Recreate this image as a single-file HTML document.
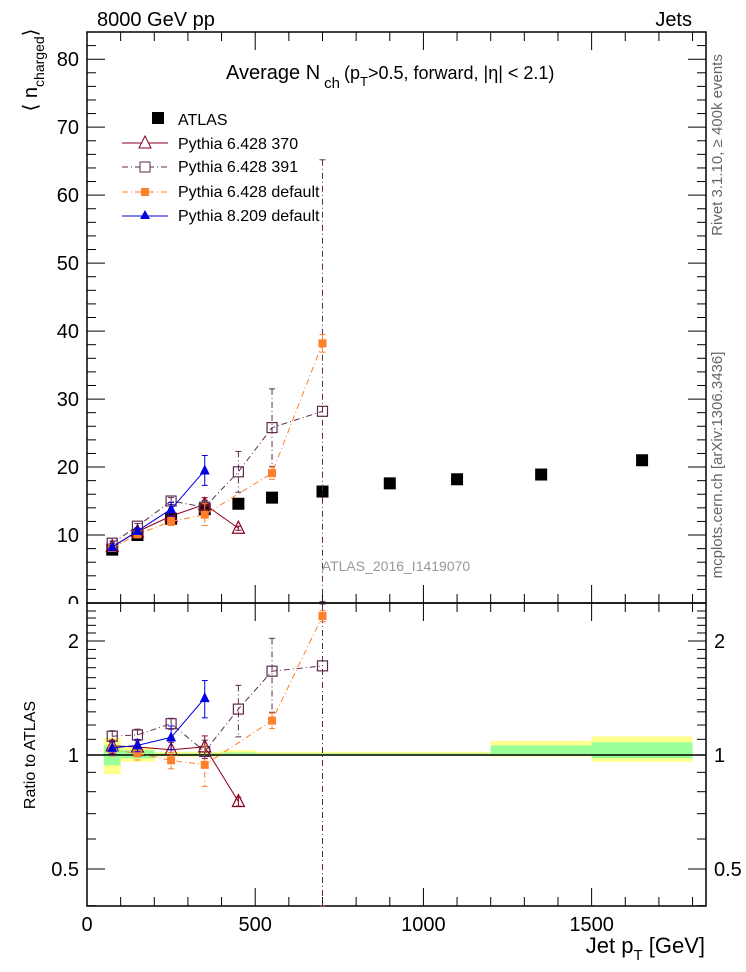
<!DOCTYPE html>
<html><head><meta charset="utf-8"><style>
html,body{margin:0;padding:0;background:#fff;}
svg{display:block;font-family:"Liberation Sans",sans-serif;}
</style></head><body>
<svg id="c" width="746" height="972" xmlns="http://www.w3.org/2000/svg"></svg>
<script>
const binLo=[50,100,200,300,400,500,600,800,1000,1200,1500];
const binHi=[100,200,300,400,500,600,800,1000,1200,1500,1800];
const atlasX=[75,150,250,350,450,550,700,900,1100,1350,1650];
const atlasY=[7.85,10.0,12.4,13.8,14.6,15.5,16.4,17.6,18.2,18.9,21.0];
const yellowLo=[0.89,0.96,0.99,0.99,0.995,0.995,0.995,0.995,0.995,0.99,0.96];
const yellowHi=[1.11,1.05,1.02,1.02,1.03,1.02,1.02,1.02,1.02,1.09,1.12];
const greenLo=[0.94,0.98,0.995,0.995,1.0,1.0,1.0,1.0,1.0,1.0,0.98];
const greenHi=[1.06,1.03,1.01,1.01,1.015,1.01,1.01,1.01,1.01,1.06,1.08];
const p370X=[75,150,250,350,450];
const p370Y=[8.3,10.5,12.8,14.5,11.0];
const p370E=[0.3,0.4,0.6,1.0,0.3];
const p391X=[75,150,250,350,450,550,700];
const p391Y=[8.8,11.3,15.0,14.1,19.3,25.8,28.2];
const p391E=[0.3,0.4,0.5,1.0,3.0,5.7,37];
const pdefX=[75,150,250,350,550,700];
const pdefY=[8.1,10.1,12.0,13.0,19.1,38.2];
const pdefE=[0.3,0.4,0.6,1.6,0.9,1.3];
const p8X=[75,150,250,350];
const p8Y=[8.2,10.6,13.8,19.5];
const p8E=[0.3,0.4,1.0,2.2];
const yTicks=[0,10,20,30,40,50,60,70,80];
const xTicks=[0,500,1000,1500];
const rTicks=[0.5,1,2];

const L=87,R=706,T=32,MB=603,RB=906;
const X=v=>L+(v/1840)*(R-L);
const Y=v=>MB-v*(MB-T)/84;
const RY=v=>755-114*Math.log2(v);
const S=document.getElementById('c');
const NS='http://www.w3.org/2000/svg';
function mk(tag,attrs,parent){const e=document.createElementNS(NS,tag);for(const k in attrs)e.setAttribute(k,attrs[k]);(parent||S).appendChild(e);return e;}
function txt(x,y,s,attrs,parent){const e=mk('text',Object.assign({x:x,y:y},attrs||{}),parent);e.textContent=s;return e;}

const bands=mk('g',{});


for(let i=0;i<binLo.length;i++){
  const r=mk('rect',{x:X(binLo[i]),y:RY(yellowHi[i]),width:X(binHi[i])-X(binLo[i]),height:RY(yellowLo[i])-RY(yellowHi[i]),fill:'#ffff8c'},bands);
  
  
  const g=mk('rect',{x:X(binLo[i]),y:RY(greenHi[i]),width:X(binHi[i])-X(binLo[i]),height:RY(greenLo[i])-RY(greenHi[i]),fill:'#99ff99'},bands);
  
  
}
mk('line',{x1:L,x2:R,y1:RY(1),y2:RY(1),stroke:'#000','stroke-width':1.5});

mk('rect',{x:L,y:T,width:R-L,height:MB-T,fill:'none',stroke:'#000','stroke-width':1.5});
mk('rect',{x:L,y:MB,width:R-L,height:RB-MB,fill:'none',stroke:'#000','stroke-width':1.5});
for(let v=0;v<=1800;v+=100){
  const big=v%500===0, len=big?18:9;
  mk('line',{x1:X(v),x2:X(v),y1:MB,y2:MB-len,stroke:'#000'});
  mk('line',{x1:X(v),x2:X(v),y1:T,y2:T+len,stroke:'#000'});
  mk('line',{x1:X(v),x2:X(v),y1:RB,y2:RB-len,stroke:'#000'});
  mk('line',{x1:X(v),x2:X(v),y1:MB,y2:MB+len,stroke:'#000'});
}
for(let v=0;v<=84;v+=2){
  const big=v%10===0,len=big?18:9;
  mk('line',{x1:L,x2:L+len,y1:Y(v),y2:Y(v),stroke:'#000'});
  mk('line',{x1:R,x2:R-len,y1:Y(v),y2:Y(v),stroke:'#000'});
}
for(let k=4;k<=25;k++){
  const v=k/10; if(RY(v)<605) continue; const big=(v===0.5||v===1||v===2); const len=big?18:9;
  mk('line',{x1:L,x2:L+len,y1:RY(v),y2:RY(v),stroke:'#000'});
  mk('line',{x1:R,x2:R-len,y1:RY(v),y2:RY(v),stroke:'#000'});
}
yTicks.forEach(v=>{const t=txt(L-8,Y(v)+7,String(v),{'font-size':20,'text-anchor':'end'});
});
xTicks.forEach(v=>{const t=txt(X(v),RB+25,String(v),{'font-size':20,'text-anchor':'middle'});
});
rTicks.forEach(v=>{const a=txt(L-8,RY(v)+7,String(v),{'font-size':20,'text-anchor':'end'});

const b=txt(R+8,RY(v)+7,String(v),{'font-size':20,'text-anchor':'start'});
});
mk('rect',{x:60,y:604,width:25,height:14,fill:'#fff'});

function marker(type,x,y,color,g){
  if(type==='sq') return mk('rect',{x:x-6,y:y-6,width:12,height:12,fill:'#000'},g);
  if(type==='osq') return mk('rect',{x:x-5,y:y-5,width:10,height:10,fill:'#fff','fill-opacity':0,stroke:color,'stroke-width':1.2},g);
  if(type==='fsq') return mk('rect',{x:x-4,y:y-4,width:8,height:8,fill:color},g);
  if(type==='otri') return mk('polygon',{points:`${x},${y-7} ${x-6},${y+5} ${x+6},${y+5}`,fill:'none',stroke:color,'stroke-width':1.2},g);
  if(type==='ftri') return mk('polygon',{points:`${x},${y-6} ${x-5},${y+4} ${x+5},${y+4}`,fill:color},g);
}
function series(name,xs,ys,es,color,dash,type,ratio,noLine){
  const g=mk('g',{});
  
  
  const yf=ratio?((v,i)=>RY(v/atlasY[atlasX.indexOf(xs[i])])):((v)=>Y(v));
  const pts=xs.map((x,i)=>X(x)+','+yf(ys[i],i)).join(' ');
  if(!noLine) mk('polyline',{points:pts,fill:'none',stroke:color,'stroke-width':1,'stroke-dasharray':dash||'none'},g);
  xs.forEach((x,i)=>{
    let lo=ys[i]-es[i],hi=ys[i]+es[i];
    if(lo<=0.2) lo=0.2;
    let y1=ratio?yf(hi,i):Y(hi), y2=ratio?yf(lo,i):Y(Math.max(lo,-2));
    y1=Math.max(y1,ratio?604:T); y2=Math.min(y2,ratio?RB:MB);
    mk('line',{x1:X(x),x2:X(x),y1:y1,y2:y2,stroke:color,'stroke-width':1,'stroke-dasharray':dash||'none'},g);
    mk('line',{x1:X(x)-3,x2:X(x)+3,y1:y1,y2:y1,stroke:color},g);
    mk('line',{x1:X(x)-3,x2:X(x)+3,y1:y2,y2:y2,stroke:color},g);
    const m=marker(type,X(x),yf(ys[i],i),color,g);
    
    
  });
}
const ae=atlasY.map(()=>0.1);
series('atlas-data',atlasX,atlasY,ae,'#000',null,'sq',false,true);
series('pythia6-370',p370X,p370Y,p370E,'#8b0022',null,'otri',false);
series('pythia6-391',p391X,p391Y,p391E,'#5e2a4e','6,3,1,3','osq',false);
series('pythia6-default',pdefX,pdefY,pdefE,'#ff7f2a','6,3,1,3','fsq',false);
series('pythia8-default',p8X,p8Y,p8E,'#0000e0',null,'ftri',false);
series('pythia6-370',p370X,p370Y,p370E,'#8b0022',null,'otri',true);
series('pythia6-391',p391X,p391Y,p391E,'#5e2a4e','6,3,1,3','osq',true);
series('pythia6-default',pdefX,pdefY,pdefE,'#ff7f2a','6,3,1,3','fsq',true);
series('pythia8-default',p8X,p8Y,p8E,'#0000e0',null,'ftri',true);
</script>
<svg width="746" height="972" style="position:absolute;left:0;top:0" xmlns="http://www.w3.org/2000/svg">
<g font-family="Liberation Sans, sans-serif">
<text x="97" y="26" font-size="20">8000 GeV pp</text>
<text x="692" y="26" font-size="20" text-anchor="end">Jets</text>
<text x="226" y="79" font-size="20">Average N<tspan font-size="15" dy="9" dx="4">ch</tspan><tspan font-size="18" dy="-9" dx="4">(p</tspan><tspan font-size="13" dy="7">T</tspan><tspan font-size="18" dy="-7">&gt;0.5, forward, |η| &lt; 2.1)</tspan></text>
<g>
<rect x="152" y="112" width="12" height="12" fill="#000"/>
<text x="178" y="125" font-size="16">ATLAS</text>
<line x1="122" x2="168" y1="143" y2="143" stroke="#8b0022"/><polygon points="145,136 139,148 151,148" fill="#fff" stroke="#8b0022"/>
<text x="178" y="149" font-size="16">Pythia 6.428 370</text>
<line x1="122" x2="168" y1="167" y2="167" stroke="#5e2a4e" stroke-dasharray="6,3,1,3"/><rect x="140" y="162" width="10" height="10" fill="#fff" stroke="#5e2a4e"/>
<text x="178" y="172" font-size="16">Pythia 6.428 391</text>
<line x1="122" x2="168" y1="192" y2="192" stroke="#ff7f2a" stroke-dasharray="6,3,1,3"/><rect x="141" y="188" width="8" height="8" fill="#ff7f2a"/>
<text x="178" y="197" font-size="16">Pythia 6.428 default</text>
<line x1="122" x2="168" y1="216" y2="216" stroke="#0000e0"/><polygon points="145,210 140,219 150,219" fill="#0000e0"/>
<text x="178" y="221" font-size="16">Pythia 8.209 default</text>
</g>
<text x="396" y="571" font-size="14" fill="#999" text-anchor="middle">ATLAS_2016_I1419070</text>
<text transform="translate(37,70) rotate(-90)" font-size="20" text-anchor="middle">⟨ n<tspan font-size="14" dy="7">charged</tspan><tspan dy="-7">⟩</tspan></text>
<text transform="translate(35,755) rotate(-90)" font-size="16" text-anchor="middle">Ratio to ATLAS</text>
<text x="705" y="953" font-size="22" text-anchor="end">Jet p<tspan font-size="15" dy="7">T</tspan><tspan dy="-7"> [GeV]</tspan></text>
<text transform="translate(722,145) rotate(-90)" font-size="15" fill="#666" text-anchor="middle">Rivet 3.1.10, ≥ 400k events</text>
<text transform="translate(722,465) rotate(-90)" font-size="15" fill="#666" text-anchor="middle">mcplots.cern.ch [arXiv:1306.3436]</text>
</g></svg>
</body></html>
